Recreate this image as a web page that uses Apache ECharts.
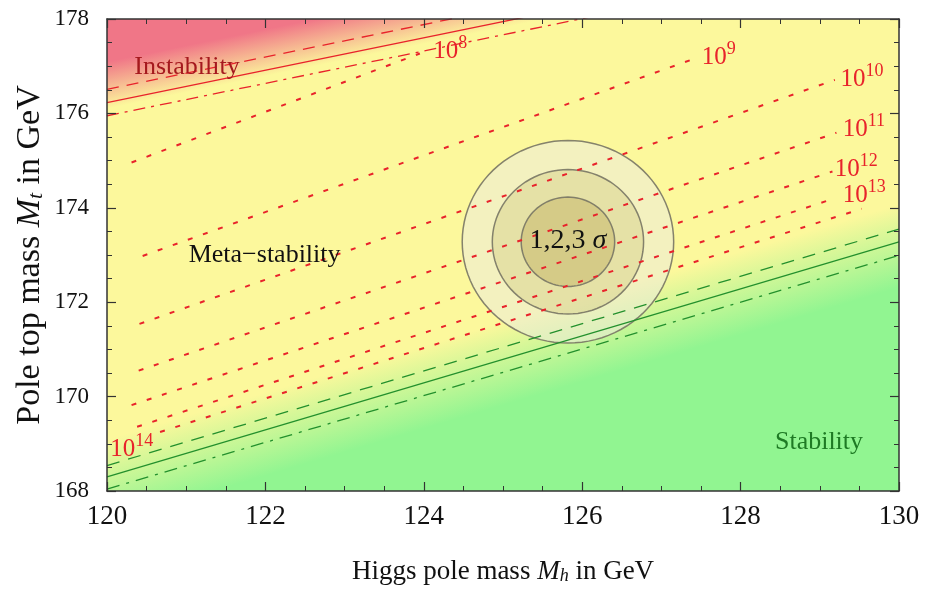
<!DOCTYPE html>
<html lang="en">
<head>
    <meta charset="utf-8" />
    <title>Vacuum stability: Mt vs Mh</title>
    <script src="https://cdn.jsdelivr.net/npm/echarts@6/dist/echarts.min.js"></script>
    <style>
        html, body {
            margin: 0;
            background: #FFFFFF;
        }
        #chart {
            width: 925px;
            height: 593px;
        }
    </style>
</head>
<body>
<div id="chart"></div>
<script>
// axis ranges, GeV
var mhRange = [120, 130];
var mtRange = [168, 178];

// boundaries, [Mh, Mt] at both ends (central, upper and lower band)
var instabCentral = [[120, 176.23], [130, 179.66]];
var instabUpper = [[120, 176.51], [130, 179.94]];
var instabLower = [[120, 175.95], [130, 179.38]];
var stabCentral = [[120, 168.30], [130, 173.28]];
var stabUpper = [[120, 168.54], [130, 173.55]];
var stabLower = [[120, 168.04], [130, 172.99]];

// instability scale contours (dotted), start and end
var contours = [
    [[120.31, 174.96], [123.95, 177.27]],
    [[120.45, 172.98], [127.40, 177.15]],
    [[120.41, 171.54], [129.19, 176.71]],
    [[120.40, 170.55], [129.21, 175.59]],
    [[120.31, 169.82], [129.16, 174.77]],
    [[120.38, 169.36], [129.15, 174.18]],
    [[120.67, 169.25], [129.53, 173.98]]
];
var contourExp = ['8', '9', '10', '11', '12', '13', '14'];
var contourLabelAt = [
    [124.12, 177.36], [127.51, 177.24], [129.26, 176.77], [129.29, 175.71],
    [129.19, 174.86], [129.29, 174.31], [120.04, 168.93]
];

// measured point and 1,2,3 sigma ellipses
var expCenter = [125.82, 173.28];
var sigmaMh = [0.59, 0.955, 1.335];
var sigmaMt = [0.947, 1.53, 2.146];

// region names
var regionNames = ['Instability', 'Meta\u2212stability', 'Stability', '1,2,3 {i|\u03c3}'];
var regionAt = [[121.01, 176.98], [121.99, 173.0], [128.99, 169.04], [125.82, 173.30]];

var serif = '"Liberation Serif", "Times New Roman", serif';
var red = '#e8232b';
var green = '#23902d';
var regionColors = ['#a5191e', '#111111', '#1e7a24', '#111111'];
var ringFill = ['rgba(190,170,90,0.4)', 'rgba(200,190,110,0.3)', 'rgba(235,235,220,0.55)'];

var chart = echarts.init(document.getElementById('chart'));

function lineSeries(data, color, type, width) {
    return {
        type: 'line',
        data: data,
        symbol: 'none',
        silent: true,
        z: 4,
        lineStyle: {color: color, width: width, type: type}
    };
}

// full-grid rect shaded with a gradient across a boundary line
function shade(line, rgb, near, far) {
    return {
        type: 'custom',
        silent: true,
        z: 2,
        data: [[mhRange[0], mtRange[0]]],
        renderItem: function (params, api) {
            var a = api.coord(line[0]), b = api.coord(line[1]);
            var dx = b[0] - a[0], dy = b[1] - a[1];
            var len = Math.sqrt(dx * dx + dy * dy);
            var nx = -dy / len, ny = dx / len;
            var mx = (a[0] + b[0]) / 2, my = (a[1] + b[1]) / 2;
            var cs = params.coordSys;
            return {
                type: 'rect',
                shape: {x: cs.x, y: cs.y, width: cs.width, height: cs.height},
                style: {
                    fill: new echarts.graphic.LinearGradient(
                        mx + nx * near, my + ny * near, mx + nx * far, my + ny * far,
                        [{offset: 0, color: 'rgba(' + rgb + ',0)'}, {offset: 1, color: 'rgba(' + rgb + ',1)'}],
                        true)
                }
            };
        }
    };
}

function axisCommon(showLabel) {
    return {
        type: 'value',
        z: 10,
        interval: 2,
        axisLine: {show: true, lineStyle: {color: '#333', width: 1.5}},
        axisTick: {show: true, inside: true, length: 9, lineStyle: {color: '#333', width: 1.2}},
        minorTick: {show: true, splitNumber: 4, length: 5, lineStyle: {color: '#333', width: 1}},
        splitLine: {show: false},
        axisLabel: {show: showLabel, fontFamily: serif, color: '#111'},
        nameMoveOverlap: false
    };
}

var series = [
    shade(instabCentral, '240,118,135', 6, -40),
    shade(stabCentral, '145,245,145', -36, 44),
    {
        type: 'custom',
        silent: true,
        z: 3,
        data: [2, 1, 0].map(function (k) { return [expCenter[0], expCenter[1], k]; }),
        renderItem: function (params, api) {
            var k = api.value(2);
            var pts = [];
            for (var j = 0; j <= 96; j++) {
                var t = j / 96 * Math.PI * 2;
                pts.push(api.coord([api.value(0) + sigmaMh[k] * Math.cos(t),
                    api.value(1) + sigmaMt[k] * Math.sin(t)]));
            }
            return {
                type: 'polygon',
                shape: {points: pts},
                style: {fill: ringFill[k], stroke: 'rgba(120,118,100,0.9)', lineWidth: 1.5}
            };
        }
    },
    lineSeries(instabUpper, red, [12, 8], 1.3),
    lineSeries(instabCentral, red, 'solid', 1.3),
    lineSeries(instabLower, red, [12, 6, 3, 6], 1.3),
    lineSeries(stabUpper, green, [13, 9], 1.3),
    lineSeries(stabCentral, green, 'solid', 1.3),
    lineSeries(stabLower, green, [13, 7, 3, 7], 1.3)
];

contours.forEach(function (c) {
    series.push(lineSeries(c, red, [5, 11], 2));
});

// contour labels 10^n
series.push({
    type: 'custom',
    silent: true,
    z: 6,
    data: contourLabelAt.map(function (p, i) { return [p[0], p[1], i]; }),
    renderItem: function (params, api) {
        var p = api.coord([api.value(0), api.value(1)]);
        return {
            type: 'text',
            x: p[0],
            y: p[1],
            style: {
                text: '{b|10}{s|' + contourExp[api.value(2)] + '}',
                fontFamily: serif,
                fontSize: 25,
                fill: red,
                align: 'left', textAlign: 'left',
                verticalAlign: 'middle', textVerticalAlign: 'middle',
                rich: {
                    b: {fontFamily: serif, fontSize: 25, fill: red, padding: [5, 0, 0, 0], verticalAlign: 'bottom'},
                    s: {fontFamily: serif, fontSize: 18, fill: red, verticalAlign: 'top'}
                }
            }
        };
    }
});

// region names
series.push({
    type: 'custom',
    silent: true,
    z: 6,
    data: regionAt.map(function (p, i) { return [p[0], p[1], i]; }),
    renderItem: function (params, api) {
        var i = api.value(2);
        var p = api.coord([api.value(0), api.value(1)]);
        return {
            type: 'text',
            x: p[0],
            y: p[1],
            style: {
                text: regionNames[i],
                fontFamily: serif,
                fontSize: i === 3 ? 28 : 26,
                fill: regionColors[i],
                align: 'center', textAlign: 'center',
                verticalAlign: 'middle', textVerticalAlign: 'middle',
                rich: {
                    i: {fontFamily: serif, fontSize: 28, fontStyle: 'italic', fill: regionColors[i]}
                }
            }
        };
    }
});

var xBottom = axisCommon(true);
xBottom.min = mhRange[0];
xBottom.max = mhRange[1];
xBottom.position = 'bottom';
xBottom.axisLabel.fontSize = 27;
xBottom.axisLabel.margin = 12;
xBottom.name = 'Higgs pole mass {i|M}{s|h} in GeV';
xBottom.nameLocation = 'middle';
xBottom.nameGap = 67;
xBottom.nameTextStyle = {
    fontFamily: serif, fontSize: 27, color: '#111',
    rich: {
        i: {fontStyle: 'italic', fontSize: 27},
        s: {fontStyle: 'italic', fontSize: 18, verticalAlign: 'bottom'}
    }
};

var xTop = axisCommon(false);
xTop.min = mhRange[0];
xTop.max = mhRange[1];
xTop.position = 'top';

var yLeft = axisCommon(true);
yLeft.min = mtRange[0];
yLeft.max = mtRange[1];
yLeft.position = 'left';
yLeft.axisLabel.fontSize = 23;
yLeft.axisLabel.margin = 18;
yLeft.name = 'Pole top mass {i|M}{s|t} in GeV';
yLeft.nameLocation = 'middle';
yLeft.nameRotate = 90;
yLeft.nameGap = 60;
yLeft.nameTextStyle = {
    fontFamily: serif, fontSize: 34, color: '#111',
    rich: {
        i: {fontStyle: 'italic', fontSize: 34},
        s: {fontStyle: 'italic', fontSize: 22, verticalAlign: 'bottom'}
    }
};

var yRight = axisCommon(false);
yRight.min = mtRange[0];
yRight.max = mtRange[1];
yRight.position = 'right';

chart.setOption({
    animation: false,
    backgroundColor: '#FFFFFF',
    grid: {
        left: 107, right: 26, top: 19, bottom: 102,
        containLabel: false,
        outerBoundsMode: 'none',
        show: true,
        backgroundColor: '#fcf89c',
        borderWidth: 0
    },
    xAxis: [xBottom, xTop],
    yAxis: [yLeft, yRight],
    series: series
});
</script>
</body>
</html>
